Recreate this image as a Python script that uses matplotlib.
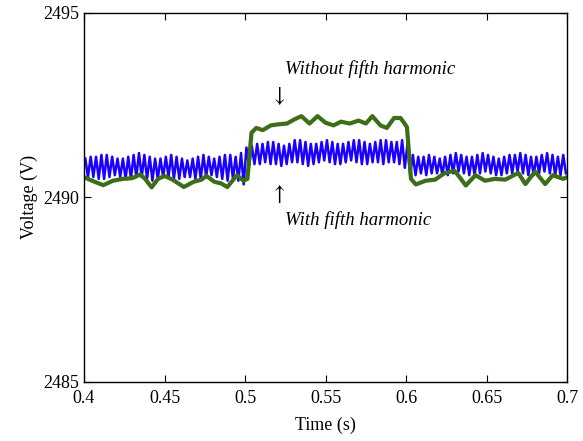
import numpy as np
import matplotlib
matplotlib.use("Agg")
import matplotlib.pyplot as plt

plt.rcParams['font.family'] = ['Liberation Serif', 'DejaVu Serif']
plt.rcParams['mathtext.fontset'] = 'stix'

# blue trace (with fifth harmonic): 300 Hz ripple, peak / trough values read per cycle
t_start = 0.4
half_period = 1.0 / 600
blue_peaks = [
    2491.05, 2491.10, 2491.10, 2491.15, 2491.15, 2491.10, 2491.05, 2491.05, 2491.10, 2491.15,
    2491.20, 2491.15, 2491.10, 2491.05, 2491.05, 2491.10, 2491.15, 2491.10, 2491.05, 2491.00,
    2491.05, 2491.10, 2491.15, 2491.10, 2491.05, 2491.10, 2491.15, 2491.15, 2491.10, 2491.20,
    2491.35, 2491.40, 2491.45, 2491.45, 2491.50, 2491.50, 2491.45, 2491.40, 2491.45, 2491.55,
    2491.55, 2491.50, 2491.45, 2491.45, 2491.50, 2491.55, 2491.50, 2491.45, 2491.45, 2491.50,
    2491.55, 2491.55, 2491.50, 2491.45, 2491.50, 2491.55, 2491.55, 2491.50, 2491.50, 2491.55,
    2491.45, 2491.15, 2491.10, 2491.10, 2491.15, 2491.10, 2491.05, 2491.10, 2491.15, 2491.20,
    2491.15, 2491.10, 2491.10, 2491.15, 2491.20, 2491.15, 2491.10, 2491.05, 2491.10, 2491.15,
    2491.15, 2491.20, 2491.15, 2491.10, 2491.10, 2491.15, 2491.20, 2491.15, 2491.10, 2491.15,
]
blue_troughs = [
    2490.55, 2490.55, 2490.50, 2490.50, 2490.55, 2490.60, 2490.55, 2490.50, 2490.50, 2490.55,
    2490.55, 2490.50, 2490.45, 2490.50, 2490.55, 2490.55, 2490.50, 2490.50, 2490.55, 2490.55,
    2490.50, 2490.50, 2490.55, 2490.60, 2490.55, 2490.50, 2490.45, 2490.50, 2490.45, 2490.35,
    2490.85, 2490.90, 2490.90, 2490.95, 2490.90, 2490.90, 2490.85, 2490.90, 2490.95, 2490.95,
    2490.90, 2490.85, 2490.90, 2490.95, 2491.00, 2490.95, 2490.90, 2490.90, 2490.95, 2491.00,
    2490.95, 2490.90, 2490.90, 2490.95, 2490.95, 2490.90, 2490.95, 2490.95, 2490.90, 2490.80,
    2490.60, 2490.60, 2490.65, 2490.60, 2490.65, 2490.65, 2490.60, 2490.60, 2490.65, 2490.70,
    2490.65, 2490.60, 2490.60, 2490.65, 2490.70, 2490.65, 2490.60, 2490.60, 2490.65, 2490.65,
    2490.70, 2490.65, 2490.60, 2490.60, 2490.65, 2490.70, 2490.65, 2490.60, 2490.60, 2490.65,
]

# green trace (without fifth harmonic)
green_t = [
    0.400, 0.405, 0.412, 0.418, 0.424, 0.430, 0.435, 0.438, 0.442, 0.446,
    0.450, 0.455, 0.462, 0.468, 0.473, 0.476, 0.481, 0.485, 0.489, 0.495,
    0.499, 0.5015, 0.504, 0.507, 0.511, 0.516, 0.521, 0.526, 0.531, 0.535,
    0.540, 0.545, 0.550, 0.555, 0.5595, 0.565, 0.5705, 0.575, 0.579, 0.584,
    0.588, 0.5925, 0.5965, 0.599, 0.6005, 0.603, 0.606, 0.612, 0.618, 0.624,
    0.630, 0.634, 0.637, 0.643, 0.649, 0.655, 0.6615, 0.6696, 0.674, 0.680,
    0.6863, 0.691, 0.6975, 0.700,
]
green_v = [
    2490.55, 2490.45, 2490.33, 2490.45, 2490.50, 2490.52, 2490.62, 2490.50, 2490.27, 2490.50,
    2490.58, 2490.48, 2490.28, 2490.42, 2490.48, 2490.58, 2490.42, 2490.38, 2490.28, 2490.60,
    2490.45, 2490.50, 2491.75, 2491.88, 2491.82, 2491.95, 2491.98, 2492.00, 2492.12, 2492.20,
    2492.00, 2492.20, 2492.02, 2491.95, 2492.05, 2492.00, 2492.08, 2492.00, 2492.20, 2491.95,
    2491.88, 2492.15, 2492.15, 2492.00, 2491.90, 2490.50, 2490.35, 2490.45, 2490.48, 2490.66,
    2490.72, 2490.50, 2490.32, 2490.60, 2490.45, 2490.50, 2490.48, 2490.66, 2490.36, 2490.70,
    2490.36, 2490.60, 2490.50, 2490.55,
]

x_ticks = [0.4, 0.45, 0.5, 0.55, 0.6, 0.65, 0.7]
x_labels = ["0.4", "0.45", "0.5", "0.55", "0.6", "0.65", "0.7"]
y_ticks = [2485, 2490, 2495]

# interleave peaks and troughs
blue_v = np.column_stack([blue_peaks, blue_troughs]).ravel()
blue_t = t_start + half_period * (np.arange(len(blue_v)) + 0.5)

fig = plt.figure(figsize=(5.83, 4.41), dpi=100)
ax = fig.add_axes([0.144, 0.134, 0.829, 0.837])

ax.plot(blue_t, blue_v, color="#1a00ff", lw=1.8)
ax.plot(green_t, green_v, color="#3b6e17", lw=3.0)

ax.set_xlim(0.4, 0.7)
ax.set_ylim(2485, 2495)
ax.set_xticks(x_ticks)
ax.set_xticklabels(x_labels)
ax.set_yticks(y_ticks)
ax.tick_params(axis="x", pad=6)
ax.tick_params(direction="in", top=True, right=True, length=5, width=0.8, labelsize=13)
for s in ax.spines.values():
    s.set_linewidth(1.0)

ax.set_xlabel("Time (s)", fontsize=13, labelpad=7)
ax.set_ylabel("Voltage (V)", fontsize=13)

ax.text(0.5245, 2493.48, "Without fifth harmonic", fontsize=13.5, style="italic", va="center")
ax.text(0.5205, 2492.75, r"$\downarrow$", fontsize=16, ha="center", va="center")
ax.text(0.5205, 2490.1, r"$\uparrow$", fontsize=16, ha="center", va="center")
ax.text(0.5245, 2489.38, "With fifth harmonic", fontsize=13.5, style="italic", va="center")

fig.savefig("out.png", dpi=100)
